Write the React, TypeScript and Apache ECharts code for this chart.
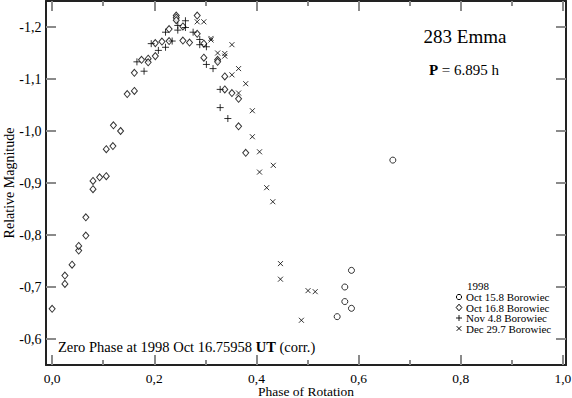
import React, { useEffect, useRef } from "react";
import * as echarts from "echarts";

// [phase, relative magnitude]
const oct15: [number, number][] = [
  [0.667, -0.944], [0.586, -0.732], [0.573, -0.700], [0.573, -0.672], [0.586, -0.659], [0.558, -0.643],
];
const oct16: [number, number][] = [
  [0.0, -0.658], [0.025, -0.706], [0.025, -0.722], [0.039, -0.743], [0.052, -0.770], [0.052, -0.779],
  [0.066, -0.799], [0.066, -0.834], [0.080, -0.888], [0.080, -0.904], [0.093, -0.911], [0.106, -0.913],
  [0.106, -0.965], [0.119, -0.971], [0.12, -1.011], [0.134, -1.000], [0.147, -1.071], [0.161, -1.077],
  [0.161, -1.112], [0.175, -1.137], [0.188, -1.139], [0.188, -1.132], [0.202, -1.144], [0.202, -1.169],
  [0.215, -1.172], [0.229, -1.173], [0.229, -1.196], [0.243, -1.222], [0.243, -1.218], [0.243, -1.213],
  [0.256, -1.201], [0.256, -1.174], [0.269, -1.170], [0.284, -1.222], [0.284, -1.187], [0.297, -1.168],
  [0.297, -1.141], [0.324, -1.137], [0.324, -1.133], [0.338, -1.105], [0.338, -1.080], [0.352, -1.073],
  [0.365, -1.062], [0.365, -1.009], [0.379, -0.958],
];
const nov4: [number, number][] = [
  [0.166, -1.133], [0.180, -1.115], [0.194, -1.168], [0.208, -1.155], [0.222, -1.190], [0.222, -1.161],
  [0.235, -1.173], [0.246, -1.203], [0.246, -1.194], [0.261, -1.212], [0.261, -1.199], [0.276, -1.190],
  [0.289, -1.176], [0.289, -1.166], [0.302, -1.162], [0.302, -1.128], [0.315, -1.120], [0.329, -1.080],
  [0.329, -1.045], [0.344, -1.024],
];
const dec29: [number, number][] = [
  [0.284, -1.210], [0.297, -1.210], [0.311, -1.178], [0.311, -1.175], [0.324, -1.150], [0.338, -1.149],
  [0.338, -1.144], [0.352, -1.166], [0.352, -1.108], [0.365, -1.120], [0.365, -1.073], [0.379, -1.091],
  [0.392, -1.039], [0.392, -0.989], [0.406, -0.960], [0.406, -0.921], [0.433, -0.934], [0.420, -0.891],
  [0.432, -0.864], [0.447, -0.745], [0.447, -0.715], [0.501, -0.693], [0.515, -0.691], [0.488, -0.636],
];

const seriesNames = ["Oct 15.8 Borowiec", "Oct 16.8 Borowiec", "Nov 4.8 Borowiec", "Dec 29.7 Borowiec"];
const xMajor = [0, 0.2, 0.4, 0.6, 0.8, 1.0];
const xMinor = [0.1, 0.3, 0.5, 0.7, 0.9];
const yTicks = [-1.2, -1.1, -1.0, -0.9, -0.8, -0.7, -0.6];

const FONT = "Liberation Serif";
const fmt = (v: number) => v.toFixed(1).replace(".", ",");

export default function App() {
  const ref = useRef<HTMLDivElement>(null);
  useEffect(() => {
    if (!ref.current) return;
    const chart = echarts.init(ref.current, undefined, { renderer: "svg" });
    const frame = { show: true, onZero: false, lineStyle: { color: "#222", width: 2 } };
    const tickStyle = { color: "#8a8a8a", width: 2 };
    const xBase = { type: "value", min: -0.012, max: 1.006, splitLine: { show: false }, axisLabel: { show: false } };
    const yBase = { type: "value", min: -1.25, max: -0.55, inverse: true, splitLine: { show: false }, axisLabel: { show: false } };
    const symStyle = { color: "#fff", borderColor: "#000", borderWidth: 1 };
    const mk = (name: string, data: [number, number][], symbol: string, size: any) => ({
      type: "scatter",
      name,
      data,
      symbol,
      symbolSize: size,
      itemStyle: symStyle,
      xAxisIndex: 0,
      yAxisIndex: 0,
    });
    chart.setOption({
      animation: false,
      backgroundColor: "#fff",
      grid: { left: 46, right: 6, top: 1, bottom: 33, containLabel: false, outerBoundsMode: "none" },
      xAxis: [
        {
          ...xBase,
          position: "bottom",
          axisLine: frame,
          axisTick: { show: true, inside: true, length: 10, lineStyle: tickStyle, customValues: xMajor },
        },
        {
          ...xBase,
          position: "bottom",
          axisLine: { show: false },
          axisTick: { show: true, inside: true, length: 5, lineStyle: tickStyle, customValues: xMinor },
        },
        {
          ...xBase,
          position: "top",
          axisLine: frame,
          axisTick: { show: true, inside: true, length: 10, lineStyle: tickStyle, customValues: xMajor },
        },
        {
          ...xBase,
          position: "top",
          axisLine: { show: false },
          axisTick: { show: true, inside: true, length: 5, lineStyle: tickStyle, customValues: xMinor },
        },
      ],
      yAxis: [
        {
          ...yBase,
          position: "left",
          axisLine: frame,
          axisTick: { show: true, inside: true, length: 10, lineStyle: tickStyle, customValues: yTicks },
        },
        {
          ...yBase,
          position: "right",
          axisLine: frame,
          axisTick: { show: true, inside: true, length: 10, lineStyle: tickStyle, customValues: yTicks },
        },
      ],
      series: [
        mk(seriesNames[0], oct15, "circle", 6),
        mk(seriesNames[1], oct16, "diamond", [6, 7]),
        mk(seriesNames[2], nov4, "path://M5,0L5,10M0,5L10,5", 7),
        mk(seriesNames[3], dec29, "path://M0,0L10,10M10,0L0,10", 5),
      ],
    });

    // axis labels & names positioned through the chart's own scales
    const toX = (v: number) => chart.convertToPixel({ xAxisIndex: 0 }, v) as number;
    const toY = (v: number) => chart.convertToPixel({ yAxisIndex: 0 }, v) as number;
    const txt = (x: number, y: number, text: string, size: number, extra: any = {}, rot = 0) => ({
      type: "text",
      x,
      y,
      rotation: rot,
      style: { text, font: `${size}px ${FONT}`, fill: "#000", textVerticalAlign: "middle", ...extra },
    });
    const left = toX(-0.012);
    const right = toX(1.006);
    const top = toY(-1.25);
    const bottom = toY(-0.55);

    const g: any[] = [];
    xMajor.forEach((v) => g.push(txt(toX(v), bottom + 13.5, fmt(v), 13.5, { textAlign: "center" })));
    yTicks.forEach((v) => g.push(txt(left - 4.5, toY(v), fmt(v), 14, { textAlign: "right" })));
    g.push(txt((left + right) / 2, bottom + 26.5, "Phase of Rotation", 13.5, { textAlign: "center" }));
    g.push(txt(left - 37, (top + bottom) / 2, "Relative Magnitude", 14, { textAlign: "center" }, Math.PI / 2));

    g.push(txt(465, 36, "283 Emma", 19, { textAlign: "center" }));
    g.push(
      txt(464, 70, "{b|P} = 6.895 h", 15, {
        textAlign: "center",
        rich: { b: { fontWeight: "bold", fontSize: 15, fontFamily: FONT, fill: "#000" } },
      })
    );
    g.push(
      txt(58, 347, "Zero Phase at 1998 Oct 16.75958 {b|UT} (corr.)", 14.5, {
        rich: { b: { fontWeight: "bold", fontSize: 14.5, fontFamily: FONT, fill: "#000" } },
      })
    );

    // legend
    const lx = 459;
    const rows = [297, 307.5, 318, 328.5];
    g.push(txt(467, 286, "1998", 11));
    const sym = { stroke: "#000", lineWidth: 1, fill: "#fff" };
    g.push({ type: "circle", shape: { cx: lx, cy: rows[0], r: 2.6 }, style: sym });
    g.push({
      type: "polygon",
      shape: { points: [[lx, rows[1] - 3.3], [lx + 2.8, rows[1]], [lx, rows[1] + 3.3], [lx - 2.8, rows[1]]] },
      style: sym,
    });
    g.push({ type: "line", shape: { x1: lx - 3, y1: rows[2], x2: lx + 3, y2: rows[2] }, style: { stroke: "#000", lineWidth: 0.9 } });
    g.push({ type: "line", shape: { x1: lx, y1: rows[2] - 3, x2: lx, y2: rows[2] + 3 }, style: { stroke: "#000", lineWidth: 0.9 } });
    g.push({ type: "line", shape: { x1: lx - 2.3, y1: rows[3] - 2.3, x2: lx + 2.3, y2: rows[3] + 2.3 }, style: sym });
    g.push({ type: "line", shape: { x1: lx + 2.3, y1: rows[3] - 2.3, x2: lx - 2.3, y2: rows[3] + 2.3 }, style: sym });
    seriesNames.forEach((n, i) => g.push(txt(466, rows[i], n, 11)));

    chart.setOption({ graphic: g });
    return () => chart.dispose();
  }, []);
  return <div ref={ref} style={{ position: "absolute", left: 0, top: 0, width: 572, height: 398 }} />;
}
